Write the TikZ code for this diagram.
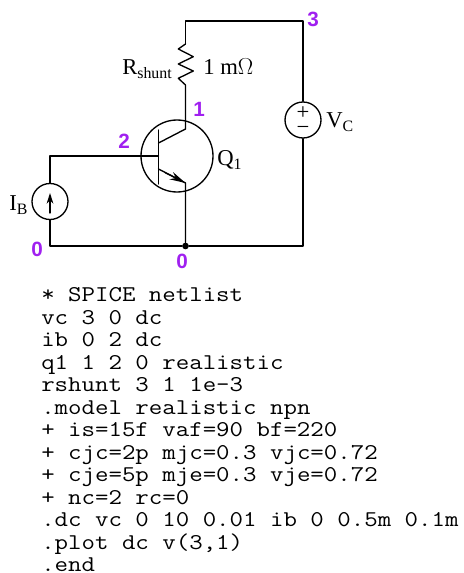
\documentclass[tikz,border=0pt]{standalone}
\usepackage{fontspec}
\setmainfont{Liberation Serif}
\newfontfamily\labelfont{Liberation Sans}
\newfontfamily\listfont[FakeStretch=1.16]{Latin Modern Mono}
\usepackage{tikz}
\usetikzlibrary{arrows.meta}
\definecolor{nodepurple}{HTML}{A020F0}
\tikzset{
	wire/.style={line width=1pt,line cap=round,line join=round},
	source/.style={circle,draw,line width=1pt,inner sep=0pt,minimum size=27pt},
	bjt/.style={circle,draw,line width=1pt,inner sep=0pt,minimum size=54pt},
	nodenum/.style={text=nodepurple,font=\labelfont\bfseries\fontsize{15.5}{15.5}\selectfont,inner sep=0pt},
	partlabel/.style={font=\fontsize{17}{17}\selectfont,inner sep=0pt},
	listline/.style={anchor=base west,font=\listfont\fontsize{16.9}{17}\selectfont,inner sep=0pt}
}

\begin{document}
\begin{tikzpicture}[x=0.75pt,y=-0.75pt]
	\useasboundingbox (0,0) rectangle (463,573);

	% Corners
	\coordinate (c1) at (185.5,21);
	\coordinate (c2) at (303,21);
	\coordinate (c3) at (303,246);
	\coordinate (c4) at (50,246);
	\coordinate (c5) at (50,156);
	\coordinate (rt) at (185.5,44);
	\coordinate (rb) at (185.5,85);

	% Sources and transistor
	\node[source] (ib) at (50,201.5) {};
	\node[source] (vc) at (303,120) {};
	\node[bjt] (q1) at (177,156) {};
	\coordinate (qb) at (158.5,156);
	\coordinate (qbt) at (158.5,130);
	\coordinate (qbb) at (158.5,184);
	\coordinate (qci) at (158.5,143);
	\coordinate (qc) at (185.5,129);
	\coordinate (qei) at (158.5,169);
	\coordinate (qe) at (185.5,183);
	\node[circle,fill,inner sep=0pt,minimum size=5pt] (j0) at (185.5,246) {};

	% Wires
	\draw[wire] (rt) -- (c1) -- (c2) -- (vc.north);
	\draw[wire] (vc.south) -- (c3) -- (j0) -- (c4) -- (ib.south);
	\draw[wire] (ib.north) -- (c5) -- (qb);
	\draw[wire] (rb) -- (qc) -- (qci);
	\draw[wire] (qbt) -- (qbb);
	\draw[wire] (qei) -- (qe) -- (j0);
	\draw[wire] (rt) -- (178.3,49) -- (193.3,56.7) -- (178.3,64) -- (193.3,71) -- (178.3,78.3) -- (rb);

	% Arrows
	\coordinate (qa) at (165,172.5);
	\draw[wire,-{Stealth[length=12pt,width=6pt]}] (qa) -- (qe);
	\coordinate (iat) at (50,193);
	\coordinate (iab) at (50,213);
	\draw[wire,-{Stealth[length=8pt,width=5pt]}] (iab) -- (iat);

	% Labels
	\node[partlabel,anchor=base west] (lr) at (122,75) {R\textsubscript{shunt}};
	\node[partlabel,anchor=base west] (lv) at (203,75) {1 m$\Omega$};
	\node[partlabel,anchor=base west] (lc) at (326,128) {V\textsubscript{C}};
	\node[partlabel,anchor=base west] (lq) at (217,166) {Q\textsubscript{1}};
	\node[partlabel,anchor=base west] (li) at (9,211) {I\textsubscript{B}};
	\node[partlabel] (lp) at (303,113) {+};
	\node[partlabel] (lm) at (303,130) {\textminus};

	% node numbers
	\node[nodenum] (n3) at (313,19) {3};
	\node[nodenum] (n1) at (199,109) {1};
	\node[nodenum] (n2) at (124,141) {2};
	\node[nodenum] (n0a) at (37,249) {0};
	\node[nodenum] (n0b) at (182,261) {0};

	% netlist
	\node[listline] (l1) at (41,301.7) {* SPICE netlist};
	\node[listline] (l2) at (41,324.2) {vc 3 0 dc};
	\node[listline] (l3) at (41,346.7) {ib 0 2 dc};
	\node[listline] (l4) at (41,369.2) {q1 1 2 0 realistic};
	\node[listline] (l5) at (41,391.7) {rshunt 3 1 1e-3};
	\node[listline] (l6) at (41,414.2) {.model realistic npn};
	\node[listline] (l7) at (41,436.7) {+ is=15f vaf=90 bf=220};
	\node[listline] (l8) at (41,459.2) {+ cjc=2p mjc=0.3 vjc=0.72};
	\node[listline] (l9) at (41,481.7) {+ cje=5p mje=0.3 vje=0.72};
	\node[listline] (l10) at (41,504.2) {+ nc=2 rc=0};
	\node[listline] (l11) at (41,526.7) {.dc vc 0 10 0.01 ib 0 0.5m 0.1m};
	\node[listline] (l12) at (41,549.2) {.plot dc v(3,1)};
	\node[listline] (l13) at (41,571.7) {.end};
\end{tikzpicture}
\end{document}
